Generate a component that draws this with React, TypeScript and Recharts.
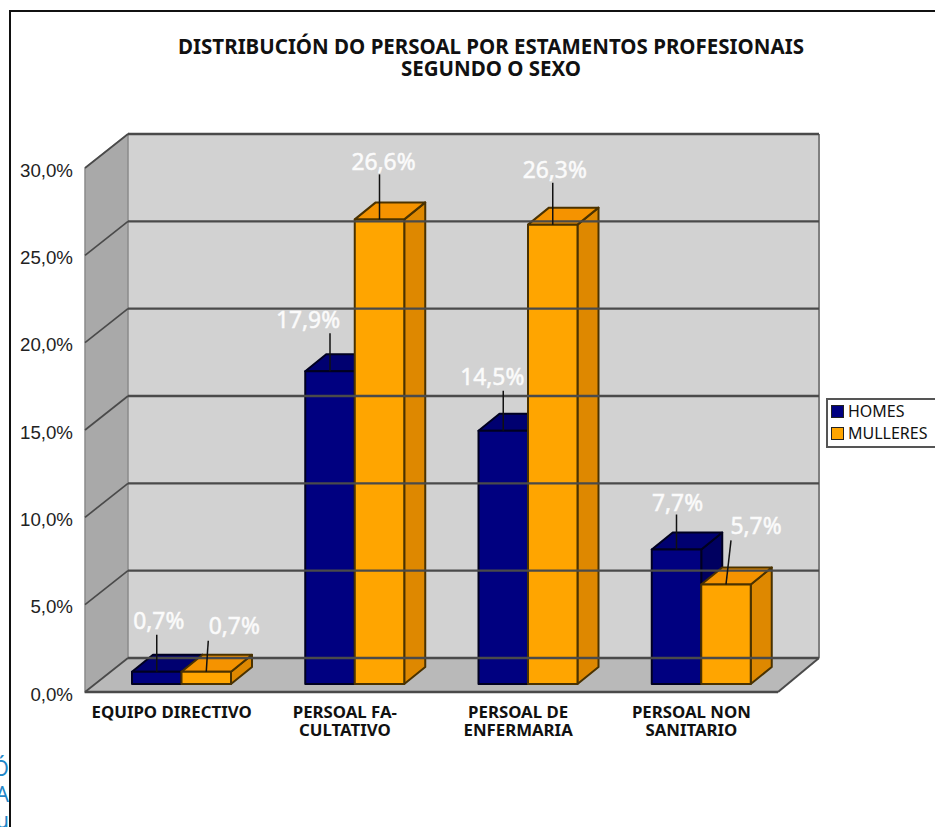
import { BarChart, Bar, XAxis, YAxis, Legend, LabelList, ReferenceArea, ReferenceLine } from 'recharts';

const categories = ['EQUIPO DIRECTIVO', 'PERSOAL FA-\nCULTATIVO', 'PERSOAL DE\nENFERMARIA', 'PERSOAL NON\nSANITARIO'];
const homes = [0.7, 17.9, 14.5, 7.7];
const mulleres = [0.7, 26.6, 26.3, 5.7];
const yTicks = [0, 5, 10, 15, 20, 25, 30];
const titleLines = ['DISTRIBUCIÓN DO PERSOAL POR ESTAMENTOS PROFESIONAIS', 'SEGUNDO O SEXO'];

const data = categories.map((name, i) => ({ name, HOMES: homes[i], MULLERES: mulleres[i] }));

// hand placed data labels: [label dx, label dy, leader end dx, leader end dy] from the top of the bar face
const homesNudge = [
  [2, -51, 0, -37],
  [-22, -52, 0, -38],
  [-11, -54, 0, -40],
  [1, -47, 0, -35],
];
const mulleresNudge = [
  [28, -46, 2, -31],
  [4, -58, 0, -45],
  [2, -55, 0, -42],
  [30, -59, 5, -44],
];

// 3D look
const WALL_DX = 43;
const WALL_DX_RIGHT = 41;
const WALL_DY = 34;
const BAR_SHIFT_X = 10;
const BAR_SHIFT_Y = 8;
const BAR_DX = 21;
const BAR_DY = 17;

const sans = '"Noto Sans", sans-serif';
const edge = '#4a4a4a';

const pts = (...p: number[][]) => p.map((q) => q.join(',')).join(' ');

function Walls({ x, y, width, height }: any) {
  const r = x + width;
  const b = y + height;
  const backR = r + WALL_DX_RIGHT;
  return (
    <g>
      <polygon points={pts([x + WALL_DX, y - WALL_DY], [backR, y - WALL_DY], [backR, b - WALL_DY], [x + WALL_DX, b - WALL_DY])} fill="#d2d2d2" />
      <polygon points={pts([x, y], [x + WALL_DX, y - WALL_DY], [x + WALL_DX, b - WALL_DY], [x, b])} fill="#a9a9a9" stroke="#8a8a8a" strokeWidth={1.5} />
      <polygon points={pts([x, b], [x + WALL_DX, b - WALL_DY], [backR, b - WALL_DY], [r, b])} fill="#b9b9b9" />
      <line x1={backR} y1={y - WALL_DY} x2={backR} y2={b - WALL_DY} stroke="#808080" strokeWidth={2} />
      <line x1={x} y1={b} x2={r} y2={b} stroke={edge} strokeWidth={2.5} />
      <line x1={r} y1={b} x2={backR} y2={b - WALL_DY} stroke={edge} strokeWidth={2} />
    </g>
  );
}

function GridLine({ x1, x2, y1 }: any) {
  return (
    <g>
      <line x1={x1} y1={y1} x2={x1 + WALL_DX} y2={y1 - WALL_DY} stroke={edge} strokeWidth={1.7} />
      <line x1={x1 + WALL_DX} y1={y1 - WALL_DY} x2={x2 + WALL_DX_RIGHT} y2={y1 - WALL_DY} stroke={edge} strokeWidth={2.4} />
    </g>
  );
}

const bar3d = (top: string, side: string, line: string) => (props: any) => {
  const { x, y, width, height, fill } = props;
  const l = x + BAR_SHIFT_X;
  const r = l + width;
  const t = y - BAR_SHIFT_Y;
  const b = t + height;
  return (
    <g stroke={line} strokeWidth={2} strokeLinejoin="round">
      <polygon points={pts([r, t], [r + BAR_DX, t - BAR_DY], [r + BAR_DX, b - BAR_DY], [r, b])} fill={side} />
      <polygon points={pts([l, t], [l + BAR_DX, t - BAR_DY], [r + BAR_DX, t - BAR_DY], [r, t])} fill={top} />
      <rect x={l} y={t} width={width} height={height} fill={fill} />
    </g>
  );
};

const pointLabel = (nudge: number[][]) => (props: any) => {
  const { x, y, width, value, index } = props;
  const cx = x + BAR_SHIFT_X + width / 2;
  const top = y - BAR_SHIFT_Y;
  const [lx, ly, ex, ey] = nudge[index];
  return (
    <g>
      <line x1={cx} y1={top} x2={cx + ex} y2={top + ey} stroke="#111" strokeWidth={1.5} />
      <text x={cx + lx} y={top + ly} textAnchor="middle" dominantBaseline="central" fill="#fbfbfb" stroke="#fbfbfb" strokeWidth={0.5} fontFamily={sans} fontSize={22.8}>
        {value.toFixed(1).replace('.', ',')}%
      </text>
    </g>
  );
};

function CategoryTick({ x, y, payload }: any) {
  return (
    <text x={x} y={y} textAnchor="middle" fill="#111" fontFamily={sans} fontWeight={700} fontSize={16.8}>
      {payload.value.split('\n').map((line: string, i: number) => (
        <tspan key={line} x={x} y={y + 18 + i * 18}>
          {line}
        </tspan>
      ))}
    </text>
  );
}

function LegendBox({ payload }: any) {
  return (
    <div style={{ border: '2px solid #555', background: '#fff', padding: '0 0 2px 3px', width: 120, boxSizing: 'border-box' }}>
      {payload.map((item: any) => (
        <div key={item.value} style={{ display: 'flex', alignItems: 'center', height: 22, fontFamily: sans, fontSize: 16, color: '#111' }}>
          <span style={{ width: 11, height: 11, background: item.color, border: '1px solid #222', marginRight: 4 }} />
          {item.value}
        </div>
      ))}
    </div>
  );
}

export default function App() {
  return (
    <div style={{ position: 'absolute', left: 0, top: 0, width: 935, height: 827, overflow: 'hidden', background: '#fff' }}>
      {/* page furniture around the chart */}
      <div style={{ position: 'absolute', left: 9, top: 10, right: -4, bottom: -4, borderLeft: '2px solid #111', borderTop: '2px solid #111' }} />
      <div style={{ position: 'absolute', left: 0, top: 752, width: 9, height: 75, overflow: 'hidden', color: '#1f87c8', fontFamily: sans, fontSize: 21 }}>
        <div style={{ position: 'absolute', right: 0, top: 2, whiteSpace: 'nowrap' }}>Ó</div>
        <div style={{ position: 'absolute', right: 0, top: 28, whiteSpace: 'nowrap' }}>IA</div>
        <div style={{ position: 'absolute', right: 0, top: 54, whiteSpace: 'nowrap' }}>u</div>
      </div>

      <BarChart width={935} height={827} data={data} barSize={49.5} barGap={0} margin={{ top: 168, right: 157, bottom: 75, left: 0 }} style={{ position: 'absolute', left: 0, top: 0 }}>
        <ReferenceArea y1={0} y2={30} shape={Walls} ifOverflow="visible" />
        {yTicks.map((t) => (
          <ReferenceLine key={t} y={t} shape={GridLine} ifOverflow="visible" />
        ))}
        <XAxis dataKey="name" height={60} axisLine={false} tickLine={false} interval={0} tick={CategoryTick} />
        <YAxis
          domain={[0, 30]}
          ticks={yTicks}
          width={85}
          axisLine={false}
          tickLine={false}
          tickMargin={6}
          tickFormatter={(v: number) => `${v.toFixed(1).replace('.', ',')}%`}
          tick={{ fill: '#222', fontSize: 18.7, fontFamily: '"Liberation Sans", sans-serif', dy: 2 }}
        />
        <Legend layout="vertical" align="center" verticalAlign="middle" content={LegendBox} wrapperStyle={{ left: 826, top: 398, width: 120 }} />
        <Bar dataKey="HOMES" fill="#000080" shape={bar3d('#000070', '#000060', '#000020')} isAnimationActive={false}>
          <LabelList dataKey="HOMES" content={pointLabel(homesNudge)} />
        </Bar>
        <Bar dataKey="MULLERES" fill="#ffa500" shape={bar3d('#f59300', '#de8800', '#4a3200')} isAnimationActive={false}>
          <LabelList dataKey="MULLERES" content={pointLabel(mulleresNudge)} />
        </Bar>
        <text textAnchor="middle" fill="#111" fontFamily={sans} fontWeight={700} fontSize={20.5}>
          {titleLines.map((line, i) => (
            <tspan key={line} x={491} y={54 + i * 22}>
              {line}
            </tspan>
          ))}
        </text>
      </BarChart>
    </div>
  );
}
